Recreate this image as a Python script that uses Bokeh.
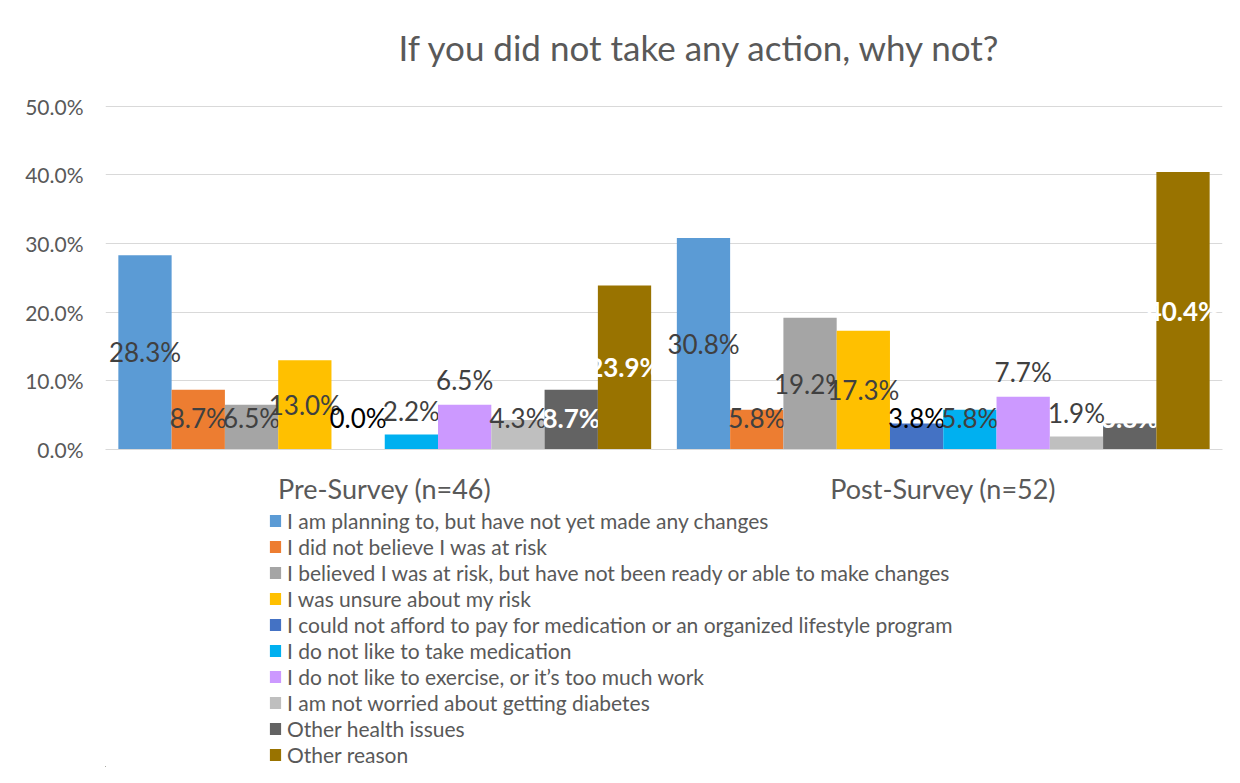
from bokeh.plotting import figure
from bokeh.layouts import column
from bokeh.models import (ColumnDataSource, Range1d, FactorRange, FixedTicker,
                          PrintfTickFormatter, Legend, LegendItem, Label)
from bokeh.transform import dodge
from bokeh.core.properties import value
from bokeh.embed import file_html
from bokeh.resources import INLINE

title_text = "If you did not take any action, why not?"
categories = ["Pre-Survey (n=46)", "Post-Survey (n=52)"]
series = [
    "I am planning to, but have not yet made any changes",
    "I did not believe I was at risk",
    "I believed I was at risk, but have not been ready or able to make changes",
    "I was unsure about my risk",
    "I could not afford to pay for medication or an organized lifestyle program",
    "I do not like to take medication",
    "I do not like to exercise, or it\u2019s too much work",
    "I am not worried about getting diabetes",
    "Other health issues",
    "Other reason",
]
pre_values = [28.3, 8.7, 6.5, 13.0, 0.0, 2.2, 6.5, 4.3, 8.7, 23.9]
post_values = [30.8, 5.8, 19.2, 17.3, 3.8, 5.8, 7.7, 1.9, 3.8, 40.4]
y_ticks = [0, 10, 20, 30, 40, 50]

colors = ["#5B9BD5", "#ED7D31", "#A5A5A5", "#FFC000", "#4472C4",
          "#00B0F0", "#CC99FF", "#BFBFBF", "#636363", "#997300"]
label_colors = ["#404040", "#404040", "#404040", "#404040", "#000000",
                "#404040", "#404040", "#404040", "#FFFFFF", "#FFFFFF"]
label_bold = [False] * 8 + [True, True]
label_outside = [False] * 6 + [True] + [False] * 3

FONT = "Lato"
GREY = "#595959"
W = 1224
FRAME_LEFT = 105


def blank(height):
    f = figure(width=W, height=height, output_backend="svg",
               toolbar_location=None, x_axis_location=None,
               y_axis_location=None, x_range=Range1d(0, 1),
               y_range=Range1d(0, height), min_border_left=0,
               min_border_right=0, min_border_top=0, min_border_bottom=0)
    f.outline_line_color = None
    f.xgrid.grid_line_color = None
    f.ygrid.grid_line_color = None
    return f


# title strip (frames of the column are aligned, so use screen x from frame left)
tf = blank(88)
tf.add_layout(Label(x=700 - FRAME_LEFT, y=42, x_units="screen",
                    text=title_text, text_align="center",
                    text_baseline="middle", text_font=FONT,
                    text_font_size="35px", text_color=GREY))

# main chart
p = figure(width=W, height=419, output_backend="svg", toolbar_location=None,
           x_range=FactorRange(*categories, range_padding=0),
           y_range=Range1d(0, 50.1),
           min_border_left=FRAME_LEFT, min_border_right=2, min_border_top=17,
           min_border_bottom=50)
p.outline_line_color = None

p.yaxis.ticker = FixedTicker(ticks=y_ticks)
p.yaxis.formatter = PrintfTickFormatter(format="%.1f%%")
p.yaxis.axis_line_color = None
p.yaxis.major_tick_line_color = None
p.yaxis.minor_tick_line_color = None
p.yaxis.major_label_text_font = FONT
p.yaxis.major_label_text_font_size = "21px"
p.yaxis.major_label_text_color = GREY
p.yaxis.major_label_standoff = 16

p.xaxis.axis_line_color = "#D9D9D9"
p.xaxis.major_tick_line_color = None
p.xaxis.minor_tick_line_color = None
p.xaxis.major_label_text_font = FONT
p.xaxis.major_label_text_font_size = "27px"
p.xaxis.major_label_text_color = GREY
p.xaxis.major_label_standoff = 16

p.xgrid.grid_line_color = None
p.ygrid.grid_line_color = "#D9D9D9"
p.ygrid.grid_line_width = 1

# legend strip
lg = blank(260)

n = len(series)
bar_w = 0.0954
items = []
for i, name in enumerate(series):
    vals = [pre_values[i], post_values[i]]
    ly = []
    for v in vals:
        if label_outside[i]:
            ly.append(v + 3.6)
        elif 0 < v < 3:
            ly.append(v + 3.4)
        else:
            ly.append(max(v / 2, 4.6))
    src = ColumnDataSource(dict(cat=categories, val=vals, ly=ly,
                                lab=[f"{v:.1f}%" for v in vals]))
    off = (i - (n - 1) / 2) * bar_w
    p.vbar(x=dodge("cat", off, range=p.x_range), top="val", width=bar_w,
           bottom=0, source=src, fill_color=colors[i], line_color=None)
    p.text(x=dodge("cat", off, range=p.x_range), y="ly", text="lab", source=src,
           text_align="center", text_baseline="middle",
           text_font=value(FONT), text_font_size="26px",
           text_font_style="bold" if label_bold[i] else "normal",
           text_color=label_colors[i])
    # legend key: a swatch renderer kept outside the visible strip
    key = lg.vbar(x=[-1000], top=[1], bottom=[0], width=0.1,
                  fill_color=colors[i], line_color=None)
    items.append(LegendItem(label=name, renderers=[key]))

legend = Legend(items=items, location=(268 - FRAME_LEFT, 0),
                orientation="vertical",
                label_text_font=FONT, label_text_font_size="21px",
                label_text_color=GREY, glyph_width=14, glyph_height=15,
                label_height=26, spacing=0, padding=0, margin=0,
                label_standoff=5, border_line_color=None,
                background_fill_alpha=0)
lg.add_layout(legend, "center")

layout = column(tf, p, lg, spacing=0)
open("out.html", "w").write(file_html(layout, INLINE))
